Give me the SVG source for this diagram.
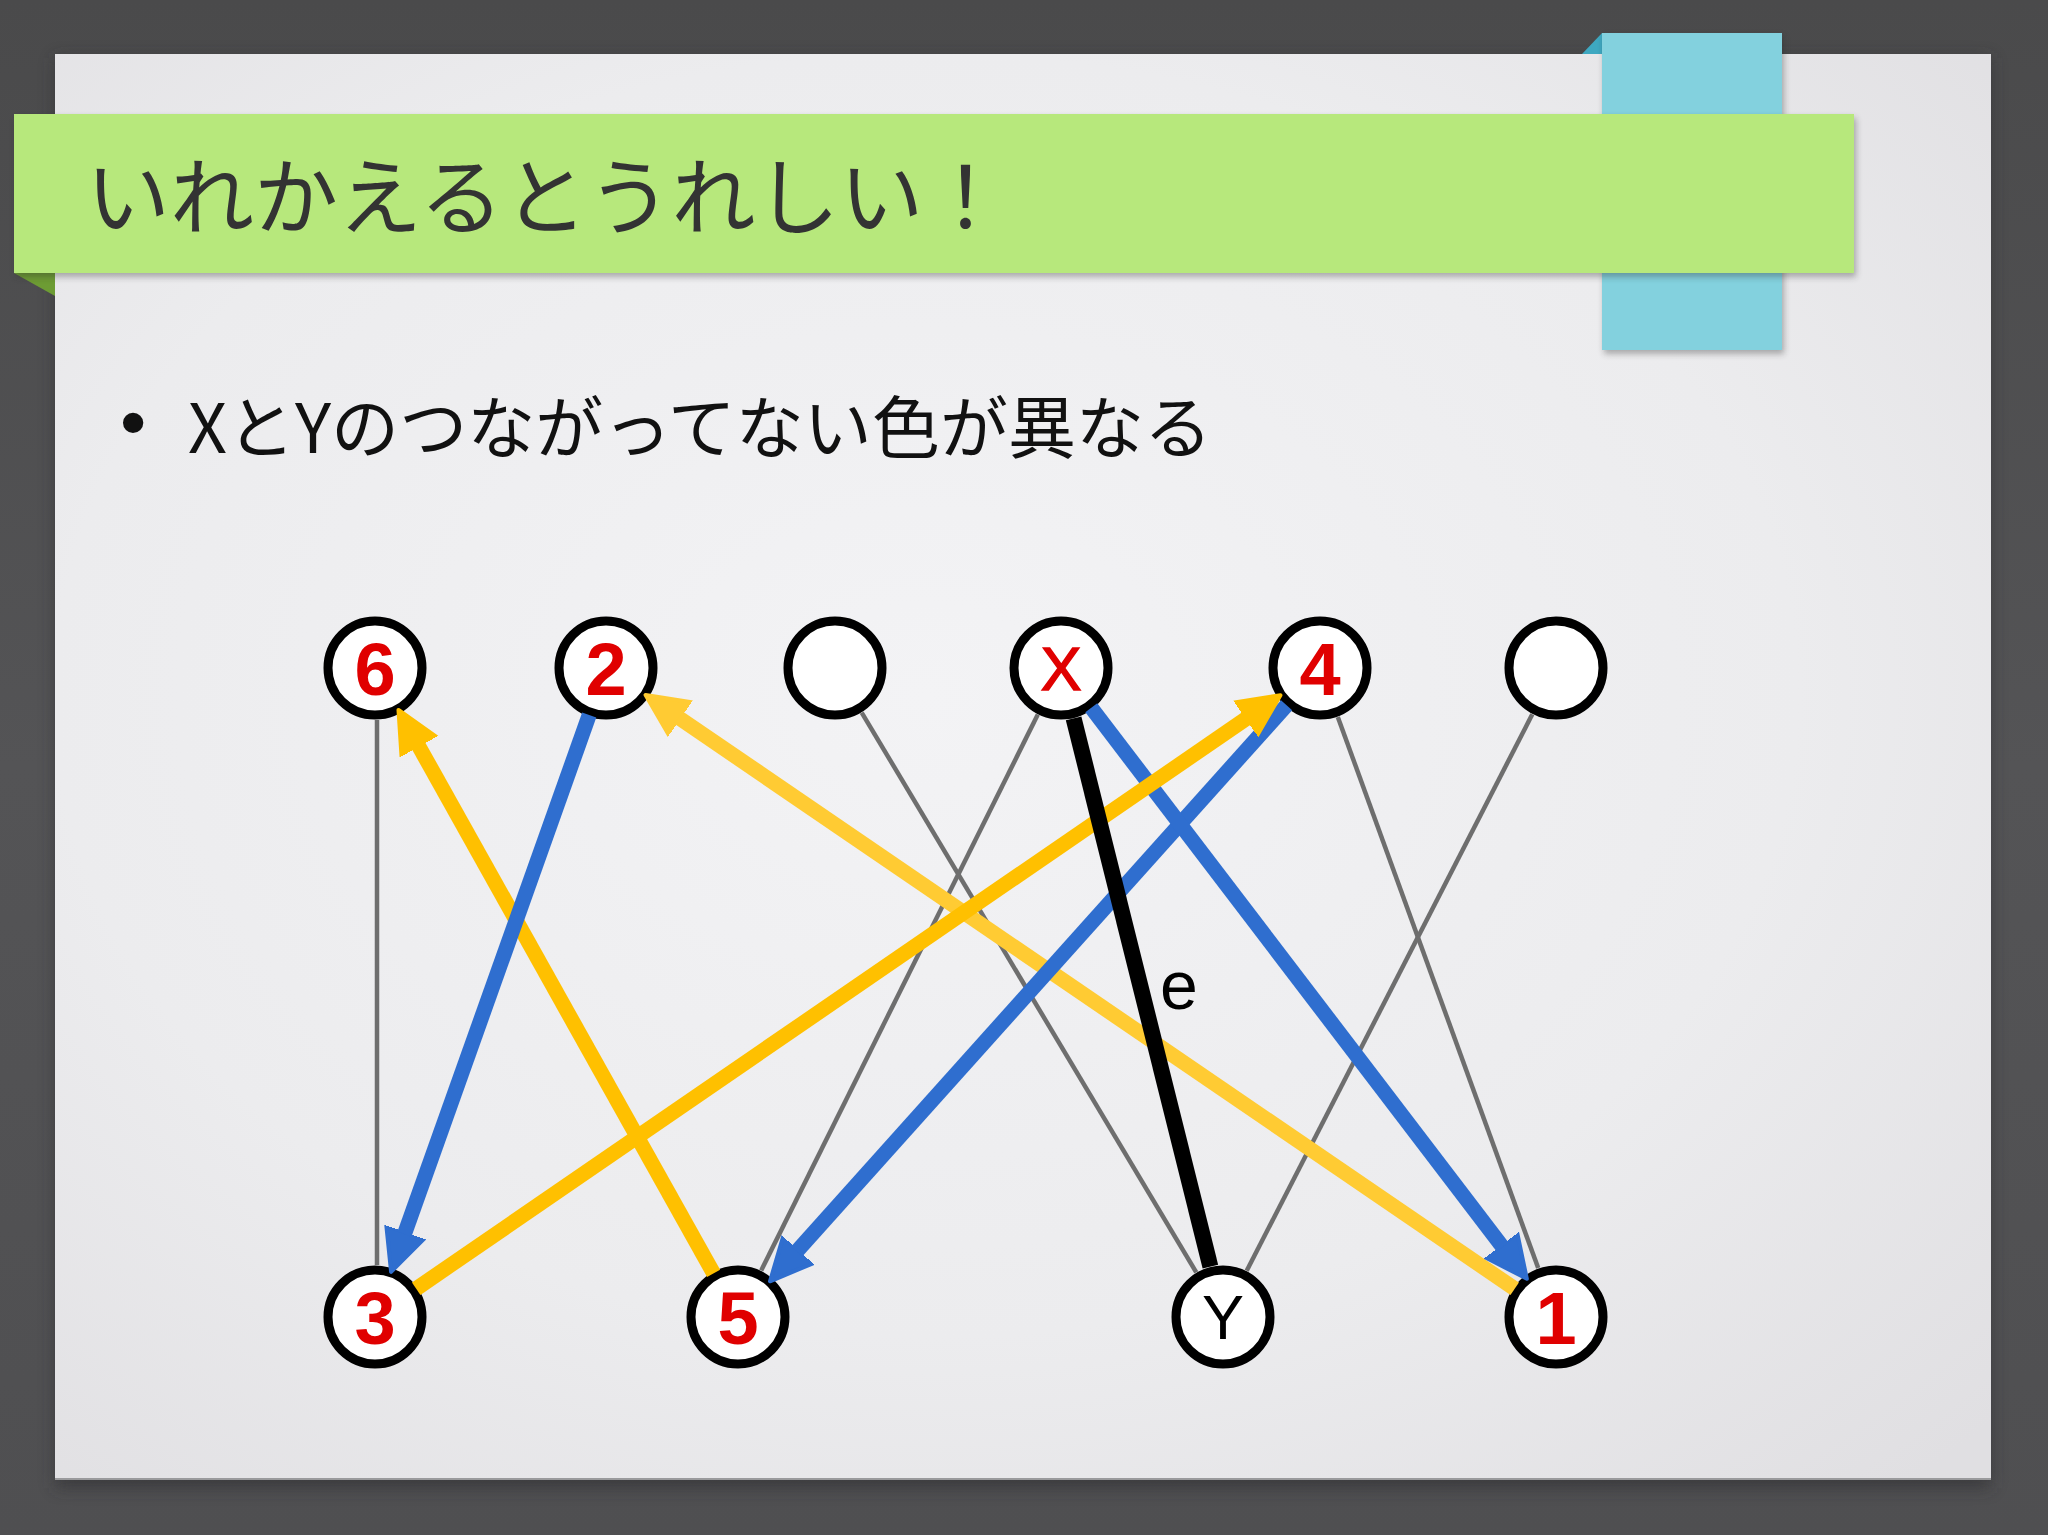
<svg xmlns="http://www.w3.org/2000/svg" width="2048" height="1535" viewBox="0 0 2048 1535">
  <defs>
    <linearGradient id="bg" x1="0" y1="0" x2="0" y2="1">
      <stop offset="0" stop-color="#4a4a4b"/>
      <stop offset="0.5" stop-color="#545456"/>
      <stop offset="1" stop-color="#4f4f51"/>
    </linearGradient>
    <radialGradient id="page" cx="0.45" cy="0.45" r="0.75">
      <stop offset="0" stop-color="#f3f3f5"/>
      <stop offset="0.6" stop-color="#ececee"/>
      <stop offset="1" stop-color="#e0dfe2"/>
    </radialGradient>
    <filter id="shadow" x="-10%" y="-10%" width="120%" height="130%">
      <feGaussianBlur stdDeviation="8"/>
    </filter>
    <filter id="shadowSmall" x="-10%" y="-10%" width="120%" height="140%">
      <feGaussianBlur stdDeviation="3"/>
    </filter>
    <marker id="ahBlue" markerUnits="userSpaceOnUse" markerWidth="48" markerHeight="48" viewBox="0 -24 48 48" refX="2" refY="0" orient="auto">
      <path d="M0,-20 L42,0 L0,20 Z" fill="#2f6ecf" stroke="#2f6ecf" stroke-width="4" stroke-linejoin="round"/>
    </marker>
    <marker id="ahYellow" markerUnits="userSpaceOnUse" markerWidth="48" markerHeight="48" viewBox="0 -24 48 48" refX="2" refY="0" orient="auto">
      <path d="M0,-20 L42,0 L0,20 Z" fill="#ffc000" stroke="#ffc000" stroke-width="4" stroke-linejoin="round"/>
    </marker>
    <marker id="ahLight" markerUnits="userSpaceOnUse" markerWidth="48" markerHeight="48" viewBox="0 -24 48 48" refX="2" refY="0" orient="auto">
      <path d="M0,-20 L42,0 L0,20 Z" fill="#ffcb33" stroke="#ffcb33" stroke-width="4" stroke-linejoin="round"/>
    </marker>
    <style>
      .node circle { fill: #ffffff; stroke: #000000; stroke-width: 9; }
      .num { font-family: "Liberation Sans", Arial, sans-serif; font-weight: bold; font-size: 74px; fill: #e00000; text-anchor: middle; }
      .xl { font-family: "Liberation Sans", Arial, sans-serif; font-size: 61px; fill: #e00000; stroke: #e00000; stroke-width: 1.5; text-anchor: middle; }
      .yl { font-family: "Liberation Sans", Arial, sans-serif; font-size: 63px; fill: #000000; text-anchor: middle; }
      .gray { stroke: #6e6e6e; stroke-width: 4.5; fill: none; }
      .blue { stroke: #2f6ecf; stroke-width: 15; fill: none; marker-end: url(#ahBlue); }
      .yellow { stroke: #ffc000; stroke-width: 15; fill: none; marker-end: url(#ahYellow); }
      .light { stroke: #ffcb33; stroke-width: 15; fill: none; marker-end: url(#ahLight); }
      .black { stroke: #000000; stroke-width: 16; fill: none; }
      .jp { font-family: "Noto Sans CJK JP", "Noto Sans", sans-serif; }
    </style>
  </defs>

  <!-- background frame -->
  <rect x="0" y="0" width="2048" height="1535" fill="url(#bg)"/>
  <!-- page -->
  <rect x="55" y="58" width="1936" height="1430" fill="#2e2e30" opacity="0.6" filter="url(#shadow)"/>
  <rect x="55" y="54" width="1936" height="1426" fill="url(#page)"/>
  <rect x="55" y="1478" width="1936" height="2" fill="#9a9a9c"/>

  <!-- blue ribbon -->
  <g id="ribbon">
    <polygon points="1582,54 1602,33 1602,54" fill="#3ea8c1"/>
    <rect x="1604" y="36" width="180" height="318" fill="#2a2a2c" opacity="0.35" filter="url(#shadowSmall)"/>
    <rect x="1602" y="33" width="180" height="317" fill="#83d1de"/>
  </g>

  <!-- green title band -->
  <g id="title">
    <polygon points="14,273 55,273 55,296" fill="#6d9c34"/>
    <rect x="16" y="118" width="1840" height="159" fill="#2a2a2c" opacity="0.35" filter="url(#shadowSmall)"/>
    <rect x="14" y="114" width="1840" height="159" fill="#b7e87c"/>
    <text class="jp" x="86" y="228" font-size="84" fill="#333333">いれかえるとうれしい！</text>
  </g>

  <!-- bullet text -->
  <g id="bullet">
    <text x="120" y="448" font-family="Liberation Sans, Arial, sans-serif" font-size="75" fill="#111111">•</text>
    <text class="jp" x="188" y="453" font-size="68" fill="#111111" textLength="1024">XとYのつながってない色が異なる</text>
  </g>

  <!-- nodes -->
  <g id="node-6" class="node"><circle cx="375" cy="668" r="47"/><text class="num" x="375" y="695">6</text></g>
  <g id="node-2" class="node"><circle cx="606" cy="668" r="47"/><text class="num" x="606" y="695">2</text></g>
  <g id="node-e1" class="node"><circle cx="835" cy="668" r="47"/></g>
  <g id="node-X" class="node"><circle cx="1061" cy="668" r="47"/><text class="xl" x="1061" y="690">X</text></g>
  <g id="node-4" class="node"><circle cx="1320" cy="668" r="47"/><text class="num" x="1320" y="695">4</text></g>
  <g id="node-e2" class="node"><circle cx="1556" cy="668" r="47"/></g>
  <g id="node-3" class="node"><circle cx="375" cy="1317" r="47"/><text class="num" x="375" y="1344">3</text></g>
  <g id="node-5" class="node"><circle cx="738" cy="1317" r="47"/><text class="num" x="738" y="1344">5</text></g>
  <g id="node-Y" class="node"><circle cx="1223" cy="1317" r="47"/><text class="yl" x="1223" y="1339">Y</text></g>
  <g id="node-1" class="node"><circle cx="1556" cy="1317" r="47"/><text class="num" x="1556" y="1344">1</text></g>

  <!-- connectors -->
  <g id="connectors">
    <line class="gray" x1="377" y1="720" x2="377" y2="1265"/>
    <line class="gray" x1="861.7" y1="712.6" x2="1196.3" y2="1272.4"/>
    <line class="gray" x1="1037.8" y1="714.6" x2="761.2" y2="1270.4"/>
    <line class="gray" x1="1337.8" y1="716.9" x2="1538.2" y2="1268.1"/>
    <line class="gray" x1="1532.3" y1="714.3" x2="1246.7" y2="1270.7"/>

    <line class="light" x1="1514.7" y1="1288.8" x2="678.6" y2="717.6"/>
    <line class="yellow" x1="713.6" y1="1273.4" x2="418.0" y2="744.8"/>
    <line class="blue" x1="589.2" y1="715.1" x2="404.5" y2="1234.1"/>
    <line class="blue" x1="1286.6" y1="705.2" x2="796.7" y2="1251.5"/>
    <line class="blue" x1="1091.3" y1="707.8" x2="1502.6" y2="1247.0"/>
    <line class="yellow" x1="416.2" y1="1288.7" x2="1247.5" y2="717.8"/>

    <line class="black" x1="1073.6" y1="718.4" x2="1210.4" y2="1266.6"/>
    <text x="1160" y="1009" font-family="Liberation Sans, Arial, sans-serif" font-size="68" fill="#000000">e</text>
  </g>
</svg>
